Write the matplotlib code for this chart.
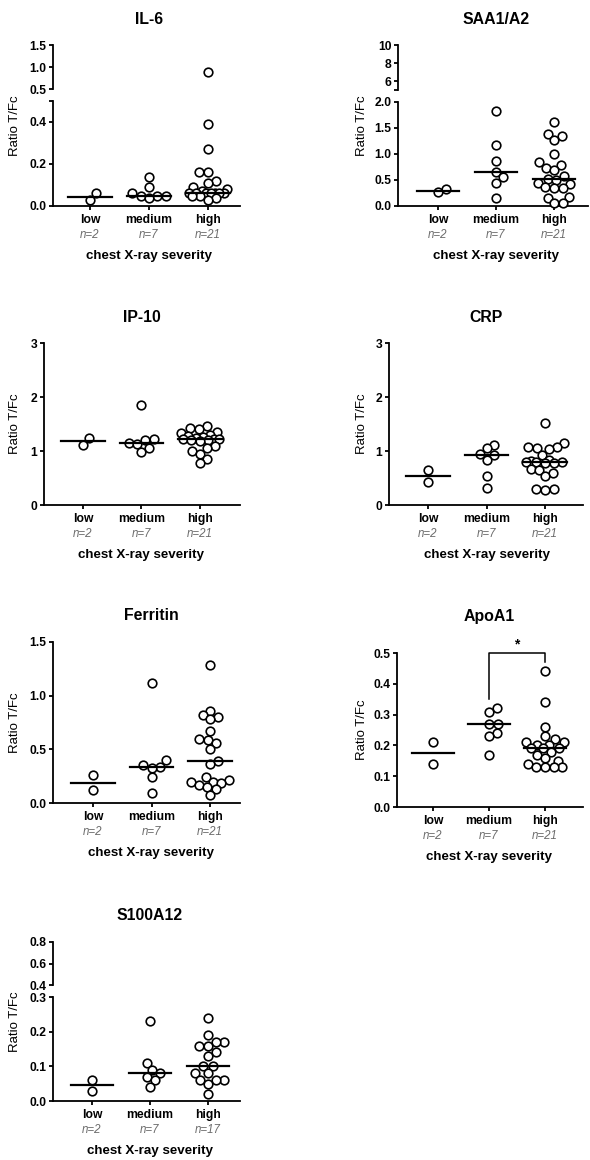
import numpy as np
import matplotlib.pyplot as plt

plt.rcParams['font.family'] = ['Liberation Sans', 'DejaVu Sans']

W, H = 590, 1160

groups = ['low', 'medium', 'high']

# values (ratio T/Fc)
il6_low = [0.03, 0.06]
il6_medium = [0.14, 0.09, 0.06, 0.05, 0.05, 0.05, 0.04]
il6_high = [0.88, 0.39, 0.27, 0.16, 0.16, 0.12, 0.11, 0.09, 0.08, 0.07,
            0.06, 0.06, 0.06, 0.06, 0.06, 0.06, 0.06, 0.05, 0.05, 0.04, 0.03]

saa_low = [0.27, 0.32]
saa_medium = [1.82, 1.17, 0.87, 0.66, 0.55, 0.45, 0.16]
saa_high = [1.61, 1.38, 1.35, 1.27, 1.00, 0.84, 0.78, 0.74, 0.69, 0.58, 0.52,
            0.50, 0.44, 0.42, 0.36, 0.35, 0.34, 0.17, 0.16, 0.06, 0.05]

ip10_low = [1.12, 1.24]
ip10_medium = [1.86, 1.22, 1.20, 1.14, 1.13, 1.06, 0.99]
ip10_high = [1.46, 1.43, 1.40, 1.36, 1.33, 1.30, 1.28, 1.26, 1.24, 1.23, 1.22,
             1.22, 1.21, 1.20, 1.18, 1.10, 1.05, 1.00, 0.95, 0.86, 0.78]

crp_low = [0.64, 0.42]
crp_medium = [1.12, 1.06, 0.94, 0.92, 0.84, 0.53, 0.31]
crp_high = [1.51, 1.15, 1.08, 1.07, 1.06, 1.03, 0.93, 0.84, 0.82, 0.80, 0.79,
            0.79, 0.78, 0.78, 0.67, 0.65, 0.59, 0.53, 0.30, 0.29, 0.28]

ferr_low = [0.26, 0.12]
ferr_medium = [1.12, 0.40, 0.35, 0.34, 0.33, 0.24, 0.09]
ferr_high = [1.29, 0.86, 0.82, 0.80, 0.78, 0.67, 0.60, 0.59, 0.56, 0.50, 0.39,
             0.36, 0.24, 0.21, 0.20, 0.20, 0.19, 0.17, 0.15, 0.13, 0.07]

apo_low = [0.21, 0.14]
apo_medium = [0.32, 0.31, 0.27, 0.27, 0.24, 0.23, 0.17]
apo_high = [0.44, 0.34, 0.26, 0.23, 0.22, 0.21, 0.21, 0.20, 0.20, 0.19, 0.19,
            0.19, 0.18, 0.17, 0.16, 0.15, 0.14, 0.13, 0.13, 0.13, 0.13]

s100_low = [0.06, 0.03]
s100_medium = [0.23, 0.11, 0.09, 0.08, 0.07, 0.06, 0.04]
s100_high = [0.24, 0.19, 0.17, 0.17, 0.16, 0.16, 0.14, 0.13, 0.10, 0.10, 0.08,
             0.08, 0.06, 0.06, 0.06, 0.05, 0.02]

LW = 1.3
DIAM = 8.6   # marker spacing in px
MAXW = 19.0  # max half width of a swarm in px


def swarm(vals, px_unit, d=DIAM, maxw=MAXW):
    # beeswarm in pixel space with a width cap (points overlap when crowded)
    ys = np.asarray(vals, dtype=float) * px_unit
    xs = np.zeros(len(ys))
    placed = []
    grid = list(np.arange(-maxw, maxw + 0.1, 1.0))
    for i in np.argsort(ys):
        cands = [0.0] + grid
        for j in placed:
            dy = ys[i] - ys[j]
            if abs(dy) < d:
                dx = np.sqrt(d * d - dy * dy)
                cands += [xs[j] + dx, xs[j] - dx]
        cands = [c for c in cands if abs(c) <= maxw + 1e-6]
        cands.sort(key=lambda c: (round(abs(c), 6), -c))

        def mind(c):
            if not placed:
                return np.inf
            return min(np.hypot(c - xs[j], ys[i] - ys[j]) for j in placed)

        best = None
        for c in cands:
            if mind(c) >= d - 1e-6:
                best = c
                break
        if best is None:
            best = max(cands, key=mind)
        xs[i] = best
        placed.append(i)
    return xs


def add_ax(fig, x0, x1, ytop, ybot):
    return fig.add_axes([x0 / W, 1 - ybot / H, (x1 - x0) / W, (ybot - ytop) / H])


def style(ax, ticks, labels):
    for s in ['top', 'right']:
        ax.spines[s].set_visible(False)
    for s in ['left', 'bottom']:
        ax.spines[s].set_linewidth(LW)
    ax.set_yticks(ticks)
    ax.set_yticklabels(labels, fontsize=8.7, fontweight='bold')
    ax.tick_params(axis='both', width=LW, length=3.2, pad=1.5)
    ax.patch.set_alpha(0)


def draw_points(ax, data, px_unit, px_cat, mask):
    for i, vals in enumerate(data):
        v = np.array([x for x in vals if mask(x)])
        if len(v) == 0:
            continue
        off = swarm(v, px_unit) / px_cat
        ax.plot(i + off, v, 'o', ms=6.2, mfc='white', mec='black', mew=1.2,
                clip_on=False, zorder=3)


def panel(fig, title, data, xpx, title_y, ylab_x, lower, upper=None, sig=None):
    x0, xlow, xhigh, x1 = xpx
    sp = (xhigh - xlow) / 2
    xlim = (-(xlow - x0) / sp, 2 + (x1 - xhigh) / sp)

    ytop, ybot, ymin, ymax, ticks, labels = lower
    ax = add_ax(fig, x0, x1, ytop, ybot)
    ax.set_xlim(xlim)
    ax.set_ylim(ymin, ymax)
    style(ax, ticks, labels)
    px_unit = (ybot - ytop) / (ymax - ymin)
    draw_points(ax, data, px_unit, sp, lambda v: v <= ymax)
    for i, vals in enumerate(data):
        m = np.median(vals)
        ax.plot([i - 0.37, i + 0.37], [m, m], color='black', lw=1.6, zorder=4)
    ax.set_xticks(range(len(groups)))
    ax.set_xticklabels(groups, fontsize=8.7, fontweight='bold')
    ax.tick_params(axis='x', pad=2.5)
    for i, vals in enumerate(data):
        ax.annotate('n=%d' % len(vals), xy=(i, 0), xycoords=('data', 'axes fraction'),
                    xytext=(0, -20.8), textcoords='offset points', ha='center',
                    va='center', fontsize=8.3, style='italic', color='#6b6b6b')
    ax.annotate('chest X-ray severity', xy=(1, 0), xycoords=('data', 'axes fraction'),
                xytext=(0, -36), textcoords='offset points', ha='center',
                va='center', fontsize=9.6, fontweight='bold')

    top = ytop
    if upper is not None:
        utop, ubot, umin, umax, uticks, ulabels = upper
        ua = add_ax(fig, x0, x1, utop, ubot)
        ua.set_xlim(xlim)
        ua.set_ylim(umin, umax)
        style(ua, uticks, ulabels)
        ua.spines['bottom'].set_visible(False)
        ua.set_xticks([])
        draw_points(ua, data, (ubot - utop) / (umax - umin), sp, lambda v: v > ymax)
        top = utop

    if sig is not None:
        a, b, ya, yb, ytop_br = sig
        ax.plot([a, a, b, b], [ya, ytop_br, ytop_br, yb], color='black', lw=1.1,
                clip_on=False)
        ax.annotate('*', xy=((a + b) / 2, ytop_br), xytext=(0, 1),
                    textcoords='offset points', ha='center', va='bottom',
                    fontsize=10, fontweight='bold')

    xmid = (xlow + xhigh) / 2
    fig.text(xmid / W, 1 - title_y / H, title, ha='center', va='center',
             fontsize=11.4, fontweight='bold')
    fig.text(ylab_x / W, 1 - (top + ybot) / 2 / H, 'Ratio T/Fc', rotation=90,
             ha='center', va='center', fontsize=9.5)


fig = plt.figure(figsize=(W / 100, H / 100), dpi=100)

panel(fig, 'IL-6', [il6_low, il6_medium, il6_high], (53, 90, 208, 240), 19, 15,
      (101, 206, 0, 0.5, [0, 0.2, 0.4, 0.5], ['0.0', '0.2', '0.4', '']),
      (45, 89, 0.5, 1.5, [0.5, 1.0, 1.5], ['0.5', '1.0', '1.5']))

panel(fig, 'SAA1/A2', [saa_low, saa_medium, saa_high], (398, 438, 554, 588), 19, 362,
      (102, 206, 0, 2.0, [0, 0.5, 1.0, 1.5, 2.0], ['0.0', '0.5', '1.0', '1.5', '2.0']),
      (45, 90, 5, 10, [5, 6, 8, 10], ['', '6', '8', '10']))

panel(fig, 'IP-10', [ip10_low, ip10_medium, ip10_high], (44, 83, 200, 240), 317, 15,
      (343, 505, 0, 3, [0, 1, 2, 3], ['0', '1', '2', '3']))

panel(fig, 'CRP', [crp_low, crp_medium, crp_high], (389, 428, 545, 583), 317, 362,
      (343, 505, 0, 3, [0, 1, 2, 3], ['0', '1', '2', '3']))

panel(fig, 'Ferritin', [ferr_low, ferr_medium, ferr_high], (53, 93, 210, 240), 616, 15,
      (642, 803, 0, 1.5, [0, 0.5, 1.0, 1.5], ['0.0', '0.5', '1.0', '1.5']))

panel(fig, 'ApoA1', [apo_low, apo_medium, apo_high], (397, 433, 545, 583), 616, 362,
      (653, 807, 0, 0.5, [0, 0.1, 0.2, 0.3, 0.4, 0.5],
       ['0.0', '0.1', '0.2', '0.3', '0.4', '0.5']),
      sig=(1, 2, 0.35, 0.47, 0.5))

panel(fig, 'S100A12', [s100_low, s100_medium, s100_high], (53, 92, 208, 240), 915, 15,
      (997, 1101, 0, 0.3, [0, 0.1, 0.2, 0.3], ['0.0', '0.1', '0.2', '0.3']),
      (942, 985, 0.4, 0.8, [0.4, 0.6, 0.8], ['0.4', '0.6', '0.8']))

fig.savefig('out.png', dpi=100)
